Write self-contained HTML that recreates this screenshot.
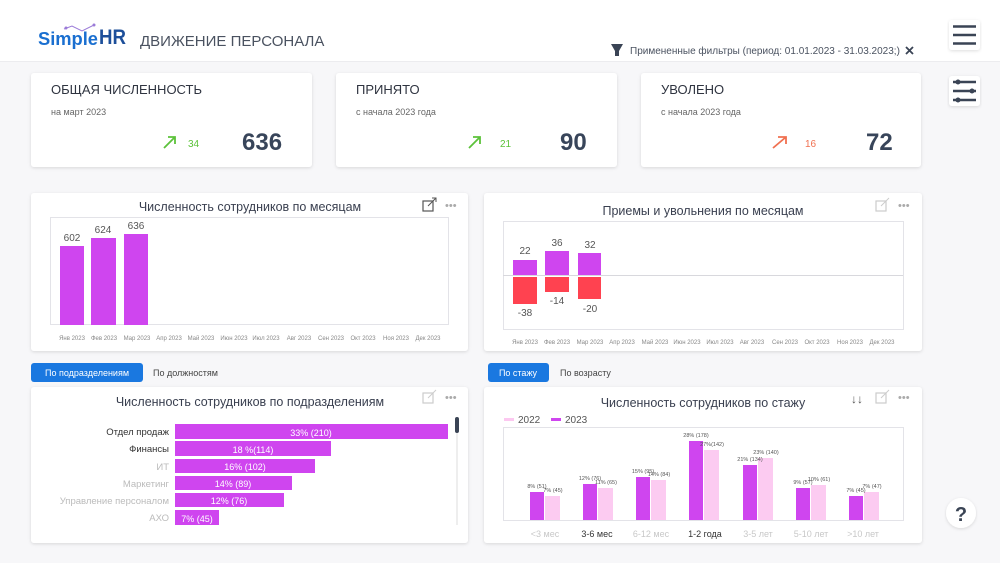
<!DOCTYPE html>
<html><head><meta charset="utf-8"><style>
html,body{margin:0;padding:0;background:#f7f7f9;}
svg{display:block;font-family:"Liberation Sans","DejaVu Sans",sans-serif;}
</style></head><body>
<svg width="1000" height="563" viewBox="0 0 1000 563" xmlns="http://www.w3.org/2000/svg">
<defs>
<filter id="sh" x="-5%" y="-10%" width="110%" height="125%"><feDropShadow dx="0" dy="1" stdDeviation="1.5" flood-color="#000" flood-opacity="0.13"/></filter>
</defs>
<rect width="1000" height="563" fill="#f7f7f9"/>
<rect width="1000" height="61" fill="#ffffff"/>
<line x1="0" y1="61.5" x2="1000" y2="61.5" stroke="#ececef"/>
<!-- logo -->
<text x="38" y="45" font-size="18" font-weight="bold" fill="#1a6fd0" textLength="60" lengthAdjust="spacingAndGlyphs">Simple</text>
<text x="99" y="44" font-size="21" font-weight="bold" fill="#1d4f9a" textLength="27" lengthAdjust="spacingAndGlyphs">HR</text>
<polyline points="64,29 72,26 82,31 94,25" fill="none" stroke="#9b7bd8" stroke-width="1"/>
<circle cx="66" cy="28" r="1.5" fill="#9b7bd8"/><circle cx="94" cy="25" r="1.5" fill="#9b7bd8"/>
<text x="140" y="46" font-size="15" fill="#4a5260">ДВИЖЕНИЕ ПЕРСОНАЛА</text>
<!-- filter -->
<path d="M611,44 L623,44 L619,51 L619,56 L615,56 L615,51 Z" fill="#3a4455"/>
<text x="630" y="54" font-size="10" fill="#4a5260">Примененные фильтры (период: 01.01.2023 - 31.03.2023;)</text>
<path d="M906,47 L913,54 M913,47 L906,54" stroke="#3a4455" stroke-width="1.8"/>
<!-- side buttons -->
<rect x="949" y="20" width="31" height="30" rx="3" fill="#fff" filter="url(#sh)"/>
<path d="M953,26.5h23M953,35h23M953,43.5h23" stroke="#3a4455" stroke-width="2.4"/>
<rect x="949" y="76" width="31" height="30" rx="3" fill="#fff" filter="url(#sh)"/>
<path d="M953,82h23M953,91h23M953,100h23" stroke="#3a4455" stroke-width="2.4"/>
<circle cx="958" cy="82" r="2.5" fill="#3a4455"/><circle cx="972" cy="91" r="2.5" fill="#3a4455"/><circle cx="958" cy="100" r="2.5" fill="#3a4455"/>
<circle cx="961" cy="513" r="15" fill="#fff" filter="url(#sh)"/>
<text x="961" y="521" font-size="20" font-weight="bold" fill="#3a4455" text-anchor="middle">?</text>

<!-- KPI cards -->
<g filter="url(#sh)">
<rect x="31" y="73" width="281" height="94" rx="3" fill="#fff"/>
<rect x="336" y="73" width="281" height="94" rx="3" fill="#fff"/>
<rect x="641" y="73" width="280" height="94" rx="3" fill="#fff"/>
</g>
<g font-size="13" fill="#2f3440">
<text x="51" y="94">ОБЩАЯ ЧИСЛЕННОСТЬ</text>
<text x="356" y="94">ПРИНЯТО</text>
<text x="661" y="94">УВОЛЕНО</text>
</g>
<g font-size="9" fill="#666">
<text x="51" y="115">на март 2023</text>
<text x="356" y="115">с начала 2023 года</text>
<text x="661" y="115">с начала 2023 года</text>
</g>
<g stroke-width="1.8" fill="none">
<path d="M164,148 L175,137 M168,137 L175,137 L175,144" stroke="#5cc23a"/>
<path d="M469,148 L480,137 M473,137 L480,137 L480,144" stroke="#5cc23a"/>
<path d="M773,148 L786,137 M778,137 L786,137 L786,144" stroke="#f07050"/>
</g>
<text x="188" y="147" font-size="10" fill="#5cc23a">34</text>
<text x="500" y="147" font-size="10" fill="#5cc23a">21</text>
<text x="805" y="147" font-size="10" fill="#f07050">16</text>
<g font-size="24" font-weight="bold" fill="#38455a">
<text x="242" y="150">636</text>
<text x="560" y="150">90</text>
<text x="866" y="150">72</text>
</g>

<!-- chart cards -->
<g filter="url(#sh)">
<rect x="31" y="193" width="437" height="158" rx="3" fill="#fff"/>
<rect x="484" y="193" width="438" height="158" rx="3" fill="#fff"/>
<rect x="31" y="387" width="437" height="156" rx="3" fill="#fff"/>
<rect x="484" y="387" width="438" height="156" rx="3" fill="#fff"/>
</g>

<!-- Chart 1 -->
<text x="250" y="211" font-size="12.5" fill="#3a4050" text-anchor="middle">Численность сотрудников по месяцам</text>
<rect x="423" y="201" width="10" height="10" fill="none" stroke="#555" stroke-width="1.2"/><path d="M428,206 L436,198 M432,198h4v4" stroke="#555" fill="none"/>
<text x="445" y="209" font-size="11" fill="#aaa">•••</text>
<rect x="50.5" y="217.5" width="398" height="107" fill="none" stroke="#e3e3e8"/>
<g fill="#cf45ef">
<rect x="60" y="246" width="24" height="79"/>
<rect x="91" y="238" width="25" height="87"/>
<rect x="124" y="234" width="24" height="91"/>
</g>
<g font-size="10" fill="#555" text-anchor="middle">
<text x="72" y="241">602</text><text x="103" y="233">624</text><text x="136" y="229">636</text>
</g>
<g font-size="6" fill="#888" text-anchor="middle">
<text x="72" y="340">Янв 2023</text><text x="104" y="340">Фев 2023</text><text x="137" y="340">Мар 2023</text><text x="169" y="340">Апр 2023</text><text x="201" y="340">Май 2023</text><text x="234" y="340">Июн 2023</text><text x="266" y="340">Июл 2023</text><text x="299" y="340">Авг 2023</text><text x="331" y="340">Сен 2023</text><text x="363" y="340">Окт 2023</text><text x="396" y="340">Ноя 2023</text><text x="428" y="340">Дек 2023</text>
</g>

<!-- Chart 2 -->
<text x="703" y="215" font-size="12.5" fill="#3a4050" text-anchor="middle">Приемы и увольнения по месяцам</text>
<rect x="876" y="201" width="10" height="10" fill="none" stroke="#ccc" stroke-width="1.2"/><path d="M881,206 L889,198" stroke="#ccc"/>
<text x="898" y="209" font-size="11" fill="#aaa">•••</text>
<rect x="503.5" y="221.5" width="400" height="108" fill="none" stroke="#e3e3e8"/>
<line x1="503" y1="275.5" x2="903" y2="275.5" stroke="#d8d8dd"/>
<g fill="#cf45ef">
<rect x="513" y="260" width="24" height="15"/><rect x="545" y="251" width="24" height="24"/><rect x="578" y="253" width="23" height="22"/>
</g>
<g fill="#ff4250">
<rect x="513" y="277" width="24" height="27"/><rect x="545" y="277" width="24" height="15"/><rect x="578" y="277" width="23" height="22"/>
</g>
<g font-size="10" fill="#555" text-anchor="middle">
<text x="525" y="254">22</text><text x="557" y="246">36</text><text x="590" y="248">32</text>
<text x="525" y="316">-38</text><text x="557" y="304">-14</text><text x="590" y="312">-20</text>
</g>
<g font-size="6" fill="#888" text-anchor="middle">
<text x="525" y="344">Янв 2023</text><text x="557" y="344">Фев 2023</text><text x="590" y="344">Мар 2023</text><text x="622" y="344">Апр 2023</text><text x="655" y="344">Май 2023</text><text x="687" y="344">Июн 2023</text><text x="720" y="344">Июл 2023</text><text x="752" y="344">Авг 2023</text><text x="785" y="344">Сен 2023</text><text x="817" y="344">Окт 2023</text><text x="850" y="344">Ноя 2023</text><text x="882" y="344">Дек 2023</text>
</g>

<!-- tabs -->
<rect x="31" y="363" width="112" height="19" rx="3" fill="#1a78e0"/>
<text x="87" y="376" font-size="9" fill="#fff" text-anchor="middle">По подразделениям</text>
<text x="153" y="376" font-size="9" fill="#444">По должностям</text>
<rect x="488" y="363" width="61" height="19" rx="3" fill="#1a78e0"/>
<text x="518" y="376" font-size="9" fill="#fff" text-anchor="middle">По стажу</text>
<text x="560" y="376" font-size="9" fill="#444">По возрасту</text>

<!-- Chart 3 -->
<text x="250" y="406" font-size="12.5" fill="#3a4050" text-anchor="middle">Численность сотрудников по подразделениям</text>
<rect x="423" y="393" width="10" height="10" fill="none" stroke="#ccc" stroke-width="1.2"/><path d="M428,398 L436,390" stroke="#ccc"/>
<text x="445" y="401" font-size="11" fill="#aaa">•••</text>
<g fill="#cf45ef">
<rect x="175" y="424" width="273" height="15"/>
<rect x="175" y="441" width="156" height="15"/>
<rect x="175" y="459" width="140" height="14"/>
<rect x="175" y="476" width="117" height="14"/>
<rect x="175" y="493" width="109" height="14"/>
<rect x="175" y="510" width="44" height="15"/>
</g>
<g font-size="9" fill="#fff" text-anchor="middle">
<text x="311" y="436">33% (210)</text><text x="253" y="453">18 %(114)</text><text x="245" y="470">16% (102)</text><text x="233" y="487">14% (89)</text><text x="229" y="504">12% (76)</text><text x="197" y="522">7% (45)</text>
</g>
<g font-size="9.5" text-anchor="end">
<text x="169" y="435" fill="#333">Отдел продаж</text>
<text x="169" y="452" fill="#333">Финансы</text>
<text x="169" y="470" fill="#bbb">ИТ</text>
<text x="169" y="487" fill="#bbb">Маркетинг</text>
<text x="169" y="504" fill="#bbb">Управление персоналом</text>
<text x="169" y="521" fill="#bbb">АХО</text>
</g>
<line x1="457" y1="417" x2="457" y2="525" stroke="#ddd"/>
<rect x="455" y="417" width="4" height="16" rx="2" fill="#3a4455"/>

<!-- Chart 4 -->
<text x="703" y="407" font-size="12.5" fill="#3a4050" text-anchor="middle">Численность сотрудников по стажу</text>
<text x="851" y="403" font-size="12" fill="#555">↓↓</text>
<rect x="876" y="393" width="10" height="10" fill="none" stroke="#ccc" stroke-width="1.2"/><path d="M881,398 L889,390" stroke="#ccc"/>
<text x="898" y="401" font-size="11" fill="#aaa">•••</text>
<line x1="504" y1="419.5" x2="514" y2="419.5" stroke="#fcc8f0" stroke-width="3"/>
<text x="518" y="423" font-size="10" fill="#555">2022</text>
<line x1="551" y1="419.5" x2="561" y2="419.5" stroke="#cf45ef" stroke-width="3"/>
<text x="565" y="423" font-size="10" fill="#555">2023</text>
<rect x="503.5" y="427.5" width="400" height="93" fill="none" stroke="#e3e3e8"/>
<g fill="#cf45ef">
<rect x="530" y="492" width="14" height="28"/>
<rect x="583" y="484" width="14" height="36"/>
<rect x="636" y="477" width="14" height="43"/>
<rect x="689" y="441" width="14" height="79"/>
<rect x="743" y="465" width="14" height="55"/>
<rect x="796" y="488" width="14" height="32"/>
<rect x="849" y="496" width="14" height="24"/>
</g>
<g fill="#fccbf1">
<rect x="545" y="496" width="15" height="24"/>
<rect x="598" y="488" width="15" height="32"/>
<rect x="651" y="480" width="15" height="40"/>
<rect x="704" y="450" width="15" height="70"/>
<rect x="758" y="458" width="15" height="62"/>
<rect x="811" y="485" width="15" height="35"/>
<rect x="864" y="492" width="15" height="28"/>
</g>
<g font-size="5.5" fill="#555" text-anchor="middle">
<text x="537" y="488">8% (51)</text><text x="553" y="492">7% (45)</text>
<text x="590" y="480">12% (76)</text><text x="606" y="484">11% (65)</text>
<text x="643" y="473">15% (95)</text><text x="659" y="476">14% (84)</text>
<text x="696" y="437">28% (178)</text><text x="712" y="446">27%(142)</text>
<text x="750" y="461">21% (134)</text><text x="766" y="454">23% (140)</text>
<text x="803" y="484">9% (57)</text><text x="819" y="481">10% (61)</text>
<text x="856" y="492">7% (45)</text><text x="872" y="488">7% (47)</text>
</g>
<g font-size="9" text-anchor="middle">
<text x="545" y="537" fill="#c8c8c8">&lt;3 мес</text>
<text x="597" y="537" fill="#333">3-6 мес</text>
<text x="651" y="537" fill="#c8c8c8">6-12 мес</text>
<text x="705" y="537" fill="#333">1-2 года</text>
<text x="758" y="537" fill="#c8c8c8">3-5 лет</text>
<text x="811" y="537" fill="#c8c8c8">5-10 лет</text>
<text x="863" y="537" fill="#c8c8c8">&gt;10 лет</text>
</g>
</svg>
</body></html>
